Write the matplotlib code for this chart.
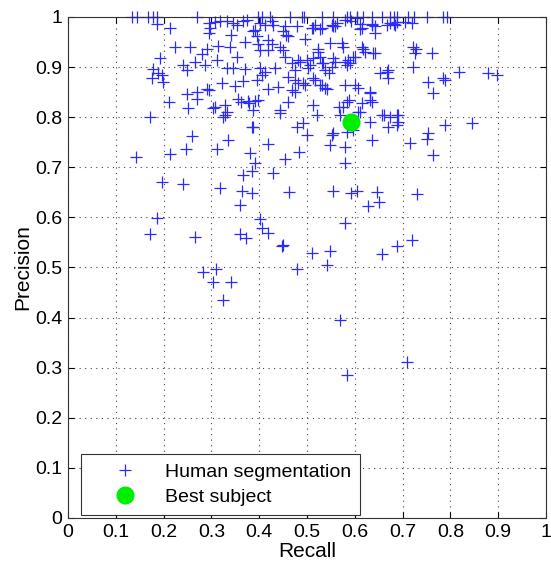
import matplotlib
matplotlib.use('Agg')
import matplotlib.pyplot as plt

# recall / precision of each human segmentation
recall = [
    # precision == 1 row
    0.133, 0.145, 0.168, 0.178, 0.186, 0.269, 0.398, 0.405, 0.423, 0.464, 0.489, 0.494,
    0.531, 0.555, 0.583, 0.590, 0.604, 0.618, 0.635, 0.656, 0.674, 0.681, 0.688, 0.712,
    0.723, 0.750, 0.785, 0.792,
    # just below the top
    0.186, 0.213, 0.294, 0.297, 0.294, 0.308, 0.318, 0.332, 0.346, 0.353, 0.367, 0.374,
    0.342, 0.370, 0.388, 0.402, 0.412, 0.426, 0.429, 0.454, 0.478, 0.510, 0.531, 0.517,
    0.552, 0.559, 0.562, 0.579, 0.593, 0.604, 0.615, 0.635, 0.642, 0.667, 0.684, 0.719,
    0.391, 0.395, 0.398, 0.402, 0.419, 0.426, 0.419, 0.450, 0.457, 0.461, 0.496, 0.444,
    0.450, 0.454, 0.513, 0.527, 0.555, 0.611, 0.611, 0.635, 0.642, 0.674, 0.681, 0.688,
    0.706,
    # 0.85 - 0.95 band, right half
    0.548, 0.573, 0.575, 0.524, 0.527, 0.555, 0.559, 0.580, 0.597, 0.600, 0.618, 0.621,
    0.642, 0.729, 0.726, 0.761, 0.485, 0.499, 0.506, 0.534, 0.538, 0.545, 0.552, 0.583,
    0.590, 0.653, 0.667, 0.670, 0.722, 0.754, 0.785, 0.789, 0.817, 0.879, 0.897, 0.764,
    0.492, 0.513, 0.527, 0.538, 0.579, 0.600, 0.607, 0.632, 0.586, 0.615, 0.639, 0.482,
    0.513, 0.524, 0.531, 0.475, 0.503, 0.468, 0.433, 0.412, 0.402, 0.395, 0.405, 0.461,
    0.475, 0.482, 0.496, 0.517, 0.531, 0.541, 0.475, 0.468, 0.419, 0.440, 0.670, 0.722,
    # 0.78 - 0.84 band
    0.513, 0.520, 0.566, 0.583, 0.587, 0.632, 0.635, 0.611, 0.656, 0.674, 0.688, 0.691,
    0.632, 0.670, 0.688, 0.789, 0.845, 0.398, 0.461, 0.444, 0.576, 0.607, 0.614, 0.632,
    0.691, 0.660, 0.568, 0.491,
    # left part
    0.224, 0.255, 0.280, 0.290, 0.314, 0.339, 0.353, 0.192, 0.241, 0.248, 0.266, 0.287,
    0.311, 0.332, 0.346, 0.370, 0.178, 0.189, 0.196, 0.175, 0.199, 0.322, 0.349, 0.367,
    0.290, 0.269, 0.248, 0.269, 0.294, 0.212, 0.252, 0.308, 0.329, 0.332, 0.356, 0.377,
    0.391, 0.388, 0.172, 0.303, 0.324, 0.384, 0.362, 0.379, 0.444, 0.328,
    # middle
    0.388, 0.478, 0.259, 0.335, 0.419, 0.142, 0.213, 0.247, 0.311, 0.381, 0.484, 0.454,
    0.391, 0.384, 0.367, 0.429, 0.196, 0.241, 0.318, 0.363, 0.384, 0.463, 0.360, 0.187,
    0.402, 0.405, 0.419, 0.172, 0.266, 0.360, 0.372, 0.449, 0.499, 0.552, 0.555, 0.548,
    0.579, 0.579, 0.583, 0.597, 0.635, 0.715, 0.750, 0.754, 0.764, 0.555, 0.593, 0.604,
    0.646, 0.651, 0.628, 0.731, 0.579, 0.719, 0.688, 0.510, 0.548, 0.542, 0.656, 0.568,
    0.709, 0.583, 0.283, 0.310, 0.303, 0.340, 0.325, 0.447, 0.478,
]
precision = [
    1.0, 1.0, 1.0, 1.0, 1.0, 1.0, 1.0, 1.0, 1.0, 1.0, 1.0, 1.0,
    1.0, 1.0, 1.0, 1.0, 1.0, 1.0, 1.0, 1.0, 1.0, 1.0, 1.0, 1.0,
    1.0, 1.0, 1.0, 1.0,
    0.986, 0.977, 0.987, 0.977, 0.967, 0.989, 0.991, 0.991, 0.987, 0.984, 0.991, 0.994,
    0.964, 0.951, 0.971, 0.987, 0.984, 0.991, 0.984, 0.981, 0.982, 0.977, 0.977, 0.984,
    0.984, 0.981, 0.987, 0.994, 0.991, 0.998, 0.977, 0.984, 0.981, 0.984, 0.984, 0.987,
    0.974, 0.961, 0.947, 0.934, 0.954, 0.947, 0.934, 0.971, 0.964, 0.961, 0.955, 0.941,
    0.934, 0.921, 0.978, 0.975, 0.981, 0.986, 0.975, 0.986, 0.967, 0.987, 0.986, 0.990,
    0.990,
    0.949, 0.948, 0.941, 0.931, 0.921, 0.918, 0.911, 0.911, 0.921, 0.921, 0.937, 0.931,
    0.928, 0.937, 0.928, 0.928, 0.911, 0.914, 0.904, 0.908, 0.894, 0.888, 0.901, 0.904,
    0.908, 0.888, 0.891, 0.878, 0.901, 0.871, 0.878, 0.875, 0.891, 0.888, 0.884, 0.848,
    0.868, 0.878, 0.865, 0.858, 0.865, 0.865, 0.858, 0.851, 0.914, 0.941, 0.928, 0.914,
    0.918, 0.937, 0.908, 0.894, 0.898, 0.908, 0.898, 0.891, 0.898, 0.874, 0.884, 0.881,
    0.874, 0.868, 0.864, 0.874, 0.864, 0.857, 0.851, 0.854, 0.857, 0.860, 0.894, 0.941,
    0.824, 0.804, 0.821, 0.831, 0.834, 0.834, 0.831, 0.811, 0.804, 0.801, 0.804, 0.791,
    0.791, 0.781, 0.784, 0.784, 0.788, 0.834, 0.831, 0.814, 0.821, 0.811, 0.828, 0.848,
    0.804, 0.804, 0.804, 0.789,
    0.940, 0.940, 0.926, 0.937, 0.942, 0.940, 0.921, 0.918, 0.904, 0.894, 0.911, 0.904,
    0.914, 0.898, 0.898, 0.896, 0.896, 0.889, 0.884, 0.878, 0.871, 0.868, 0.862, 0.873,
    0.856, 0.851, 0.846, 0.836, 0.854, 0.831, 0.818, 0.821, 0.824, 0.811, 0.836, 0.833,
    0.833, 0.814, 0.801, 0.818, 0.801, 0.781, 0.831, 0.828, 0.809, 0.804,
    0.781, 0.781, 0.762, 0.754, 0.746, 0.721, 0.727, 0.736, 0.736, 0.729, 0.731, 0.716,
    0.709, 0.693, 0.685, 0.689, 0.671, 0.667, 0.658, 0.653, 0.649, 0.651, 0.625, 0.598,
    0.596, 0.578, 0.569, 0.567, 0.561, 0.567, 0.558, 0.545, 0.764, 0.764, 0.768, 0.745,
    0.741, 0.708, 0.771, 0.774, 0.754, 0.749, 0.756, 0.768, 0.725, 0.652, 0.649, 0.652,
    0.651, 0.631, 0.622, 0.647, 0.589, 0.555, 0.543, 0.529, 0.533, 0.505, 0.527, 0.395,
    0.312, 0.285, 0.490, 0.496, 0.472, 0.472, 0.435, 0.543, 0.496,
]

best_recall = [0.593]
best_precision = [0.791]

ticks = [i / 10 for i in range(11)]
tick_labels = ['0', '0.1', '0.2', '0.3', '0.4', '0.5', '0.6', '0.7', '0.8', '0.9', '1']

plt.rcParams['font.family'] = ['Liberation Sans', 'DejaVu Sans']

fig = plt.figure(figsize=(5.51, 5.65), dpi=100)
ax = fig.add_axes([0.1234, 0.0832, 0.8676, 0.8868])

ax.plot(recall, precision, '+', color='#2b2bff', markersize=8, markeredgewidth=0.9,
        clip_on=False, label='Human segmentation')
ax.plot(best_recall, best_precision, 'o', color='#00ee00', markersize=12,
        clip_on=False, label='Best subject')

ax.set_xlim(0, 1)
ax.set_ylim(0, 1)
ax.set_xticks(ticks)
ax.set_xticklabels(tick_labels)
ax.set_yticks(ticks)
ax.set_yticklabels(tick_labels)
ax.tick_params(direction='in', top=True, right=True, labelsize=14, length=4, pad=4)
ax.grid(True, linestyle=(0, (1, 4)), color='#444444', linewidth=0.8)
ax.set_axisbelow(True)
for s in ax.spines.values():
    s.set_color('#333333')
    s.set_linewidth(0.8)

ax.set_xlabel('Recall', fontsize=15, labelpad=1)
ax.set_ylabel('Precision', fontsize=15, labelpad=2)

leg = ax.legend(loc='lower left', bbox_to_anchor=(0.027, 0.006), borderaxespad=0,
                fancybox=False, edgecolor='#333333', framealpha=1, fontsize=14,
                handletextpad=0.3, borderpad=0.45, labelspacing=0.4, handlelength=3.6)
leg.get_frame().set_linewidth(0.8)

fig.savefig('out.png', dpi=100)
